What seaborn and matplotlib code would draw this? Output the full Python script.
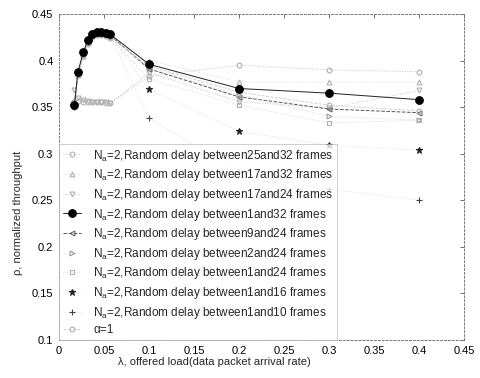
import matplotlib
matplotlib.use("Agg")
import matplotlib.pyplot as plt
import seaborn as sns
import pandas as pd

sns.set_theme(style="white")
plt.rcParams['font.family'] = ['Liberation Sans', 'DejaVu Sans']
plt.rcParams['mathtext.fontset'] = 'custom'
plt.rcParams['mathtext.rm'] = 'Liberation Sans'
plt.rcParams['mathtext.it'] = 'Liberation Sans'

# ---- data ----
x_vals = [0.017, 0.021, 0.027, 0.032, 0.037, 0.042, 0.047, 0.052, 0.057, 0.1, 0.2, 0.3, 0.4]

y_25_32 = [0.356, 0.357, 0.356, 0.356, 0.355, 0.355, 0.355, 0.354, 0.354, 0.383, 0.395, 0.390, 0.388]
y_17_32 = [0.358, 0.385, 0.405, 0.420, 0.427, 0.429, 0.429, 0.428, 0.426, 0.400, 0.377, 0.377, 0.377]
y_17_24 = [0.368, 0.360, 0.358, 0.357, 0.356, 0.356, 0.355, 0.355, 0.354, 0.387, 0.356, 0.349, 0.368]
y_1_32 = [0.352, 0.388, 0.409, 0.422, 0.429, 0.431, 0.431, 0.430, 0.428, 0.396, 0.370, 0.365, 0.358]
y_9_24 = [0.352, 0.387, 0.408, 0.421, 0.428, 0.430, 0.430, 0.429, 0.427, 0.391, 0.361, 0.348, 0.344]
y_2_24 = [0.354, 0.386, 0.407, 0.420, 0.427, 0.429, 0.429, 0.428, 0.426, 0.392, 0.363, 0.340, 0.336]
y_1_24 = [0.355, 0.385, 0.406, 0.419, 0.426, 0.428, 0.428, 0.427, 0.425, 0.380, 0.352, 0.333, 0.336]
y_1_16 = [0.351, 0.387, 0.408, 0.421, 0.428, 0.430, 0.430, 0.429, 0.427, 0.369, 0.324, 0.309, 0.304]
y_1_10 = [0.350, 0.386, 0.407, 0.420, 0.427, 0.429, 0.429, 0.428, 0.426, 0.338, 0.280, 0.262, 0.250]
y_alpha1 = [0.350, 0.384, 0.405, 0.418, 0.425, 0.427, 0.427, 0.426, 0.424, 0.394, 0.366, 0.352, 0.346]

labels = [
    r'N$_{\rm a}$=2,Random delay between25and32 frames',
    r'N$_{\rm a}$=2,Random delay between17and32 frames',
    r'N$_{\rm a}$=2,Random delay between17and24 frames',
    r'N$_{\rm a}$=2,Random delay between1and32 frames',
    r'N$_{\rm a}$=2,Random delay between9and24 frames',
    r'N$_{\rm a}$=2,Random delay between2and24 frames',
    r'N$_{\rm a}$=2,Random delay between1and24 frames',
    r'N$_{\rm a}$=2,Random delay between1and16 frames',
    r'N$_{\rm a}$=2,Random delay between1and10 frames',
    'α=1',
]
series = [y_25_32, y_17_32, y_17_24, y_1_32, y_9_24, y_2_24, y_1_24, y_1_16, y_1_10, y_alpha1]

x_ticks = [0, 0.05, 0.1, 0.15, 0.2, 0.25, 0.3, 0.35, 0.4, 0.45]
y_ticks = [0.1, 0.15, 0.2, 0.25, 0.3, 0.35, 0.4, 0.45]
x_tick_labels = ['0', '0.05', '0.1', '0.15', '0.2', '0.25', '0.3', '0.35', '0.4', '0.45']
y_tick_labels = ['0.1', '0.15', '0.2', '0.25', '0.3', '0.35', '0.4', '0.45']

rows = []
for lab, ys in zip(labels, series):
    for xv, yv in zip(x_vals, ys):
        rows.append({'series': lab, 'x': xv, 'y': yv})
df = pd.DataFrame(rows)

# ---- styles (scanned, monochrome look) ----
faint = '#b0b0b0'
faint_line = '#d4d4d4'
styles = [
    dict(marker='o', ls=':', mc=faint, lc='#c4c4c4', ms=3.5, mfc='none', lw=0.7),
    dict(marker='^', ls=':', mc=faint, lc=faint_line, ms=3.5, mfc='none', lw=0.6),
    dict(marker='v', ls=':', mc=faint, lc='#c4c4c4', ms=3.5, mfc='none', lw=0.7),
    dict(marker='o', ls='-', mc='black', lc='#222222', ms=5.5, mfc='black', lw=0.7),
    dict(marker='<', ls='--', mc='#666666', lc='#555555', ms=3.5, mfc='none', lw=0.7),
    dict(marker='>', ls=':', mc='#999999', lc=faint_line, ms=3.5, mfc='none', lw=0.6),
    dict(marker='s', ls=':', mc=faint, lc=faint_line, ms=3.5, mfc='none', lw=0.6),
    dict(marker='*', ls=':', mc='#222222', lc=faint_line, ms=4.5, mfc='#222222', lw=0.5),
    dict(marker='+', ls=':', mc='#444444', lc=faint_line, ms=4.5, mfc='none', lw=0.5),
    dict(marker='o', ls='--', mc=faint, lc='#cccccc', ms=3.5, mfc='none', lw=0.6),
]

fig = plt.figure(figsize=(4.8, 3.78), dpi=100)
ax = fig.add_axes([0.123, 0.1005, 0.844, 0.8625])

for lab, st in zip(labels, styles):
    sub = df[df['series'] == lab]
    z = 5 if st['mfc'] == 'black' else 2
    sns.lineplot(data=sub, x='x', y='y', ax=ax, estimator=None, sort=False,
                 marker=st['marker'], linestyle=st['ls'], color=st['lc'],
                 markersize=st['ms'], markerfacecolor=st['mfc'],
                 markeredgecolor=st['mc'], markeredgewidth=0.8,
                 linewidth=st['lw'], label=lab, zorder=z)

ax.set_xlim(0, 0.45)
ax.set_ylim(0.1, 0.45)
ax.set_xticks(x_ticks)
ax.set_xticklabels(x_tick_labels)
ax.set_yticks(y_ticks)
ax.set_yticklabels(y_tick_labels)
ax.tick_params(direction='in', length=3, width=0.6, colors='#555555', labelcolor='black',
               labelsize=8, top=True, right=True, pad=4)
for sp in ax.spines.values():
    sp.set_visible(True)
    sp.set_color('#777777')
    sp.set_linewidth(0.7)
    sp.set_linestyle((0, (2, 2)))

ax.set_xlabel('λ, offered load(data packet arrival rate)', fontsize=8)
ax.xaxis.set_label_coords(0.383, -0.052)
ax.set_ylabel('ρ, normalized throughput', fontsize=8)
ax.yaxis.set_label_coords(-0.09, 0.39)

leg = ax.legend(loc='lower left', bbox_to_anchor=(0.0, 0.0), borderaxespad=0.0,
                fontsize=8.5, frameon=True, fancybox=False, labelspacing=0.31,
                handlelength=1.6, handletextpad=1.0, borderpad=0.3)
leg.get_frame().set_edgecolor('#aaaaaa')
leg.get_frame().set_linewidth(0.5)
leg.set_zorder(10)

fig.savefig('out.png', dpi=100)
